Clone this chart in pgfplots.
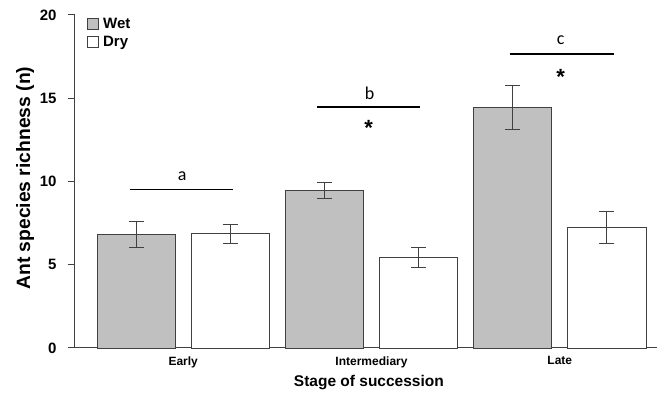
\documentclass[border=0pt]{standalone}
\usepackage{pgfplots}
\pgfplotsset{compat=1.18}
\usepackage{fontspec}
\setmainfont{Liberation Sans}
\newfontfamily\carlito{Carlito}
\definecolor{wetgray}{HTML}{C0C0C0}
\definecolor{edge}{HTML}{404040}
\begin{document}
\begin{tikzpicture}
\path[use as bounding box] (-75pt,-47pt) rectangle (587pt,348pt);
\begin{axis}[
  scale only axis,
  width=582pt, height=333pt,
  xmin=0.351, xmax=6.532,
  ymin=0, ymax=20,
  axis lines=left,
  axis line style={-, edge, line width=1pt},
  ytick={0,5,10,15,20},
  xtick={1.5,3.5,5.5},
  xticklabels={Early,Intermediary,Late},
  x tick style={draw=none},
  y tick style={edge, line width=1pt},
  tick align=outside,
  major tick length=7pt,
  /pgf/number format/assume math mode=true,
  yticklabel style={font=\fontsize{15}{16}\selectfont\bfseries, xshift=-8pt},
  xticklabel style={font=\fontsize{12}{13}\selectfont\bfseries, yshift=2pt},
  ylabel={Ant species richness (n)},
  ylabel style={at={(axis description cs:-0.0856,0.51)}, anchor=center, rotate=0, font=\fontsize{19.3}{21}\selectfont\bfseries},
  xlabel={Stage of succession},
  xlabel style={at={(axis description cs:0.505,-0.104)}, anchor=center, font=\fontsize{15.5}{18}\selectfont\bfseries},
  legend style={at={(axis description cs:0.019,1.0)}, anchor=north west, draw=none, fill=none,
    font=\fontsize{15}{17}\selectfont\bfseries, row sep=2pt, inner sep=1pt,
    nodes={inner xsep=4pt}},
  legend cell align=left,
  legend image code/.code={\draw[#1] (0pt,-5.5pt) rectangle (11pt,5.5pt);},
  clip=false,
]
\addplot[ybar, bar width=0.83, bar shift=0pt, fill=wetgray, draw=edge, line width=0.9pt,
  error bars/.cd, y dir=both, y explicit,
  error bar style={edge, line width=0.9pt},
  error mark options={rotate=90, mark size=7.5pt, edge, line width=0.9pt}]
  coordinates {(1,6.83) +- (0,0.78) (3,9.47) +- (0,0.5) (5,14.45) +- (0,1.3)};
\addlegendentry{Wet}
\addplot[ybar, bar width=0.83, bar shift=0pt, fill=white, draw=edge, line width=0.9pt,
  error bars/.cd, y dir=both, y explicit,
  error bar style={edge, line width=0.9pt},
  error mark options={rotate=90, mark size=7.5pt, edge, line width=0.9pt}]
  coordinates {(2,6.85) +- (0,0.58) (4,5.45) +- (0,0.6) (6,7.25) +- (0,0.97)};
\addlegendentry{Dry}
\draw[black, line width=1.3pt] (axis cs:0.936,9.5) -- (axis cs:2.032,9.5);
\draw[black, line width=1.3pt] (axis cs:2.925,14.47) -- (axis cs:4.011,14.47);
\draw[black, line width=1.3pt] (axis cs:4.968,17.66) -- (axis cs:6.074,17.66);
\node[font=\carlito\fontsize{18}{20}\selectfont] at (axis cs:1.49,10.3) {a};
\node[font=\carlito\fontsize{18}{20}\selectfont] at (axis cs:3.48,15.3) {b};
\node[font=\carlito\fontsize{18}{20}\selectfont] at (axis cs:5.51,18.5) {c};
\node[font=\fontsize{22}{24}\selectfont\bfseries] at (axis cs:3.47,13.2) {*};
\node[font=\fontsize{22}{24}\selectfont\bfseries] at (axis cs:5.51,16.3) {*};
\end{axis}
\end{tikzpicture}
\end{document}
